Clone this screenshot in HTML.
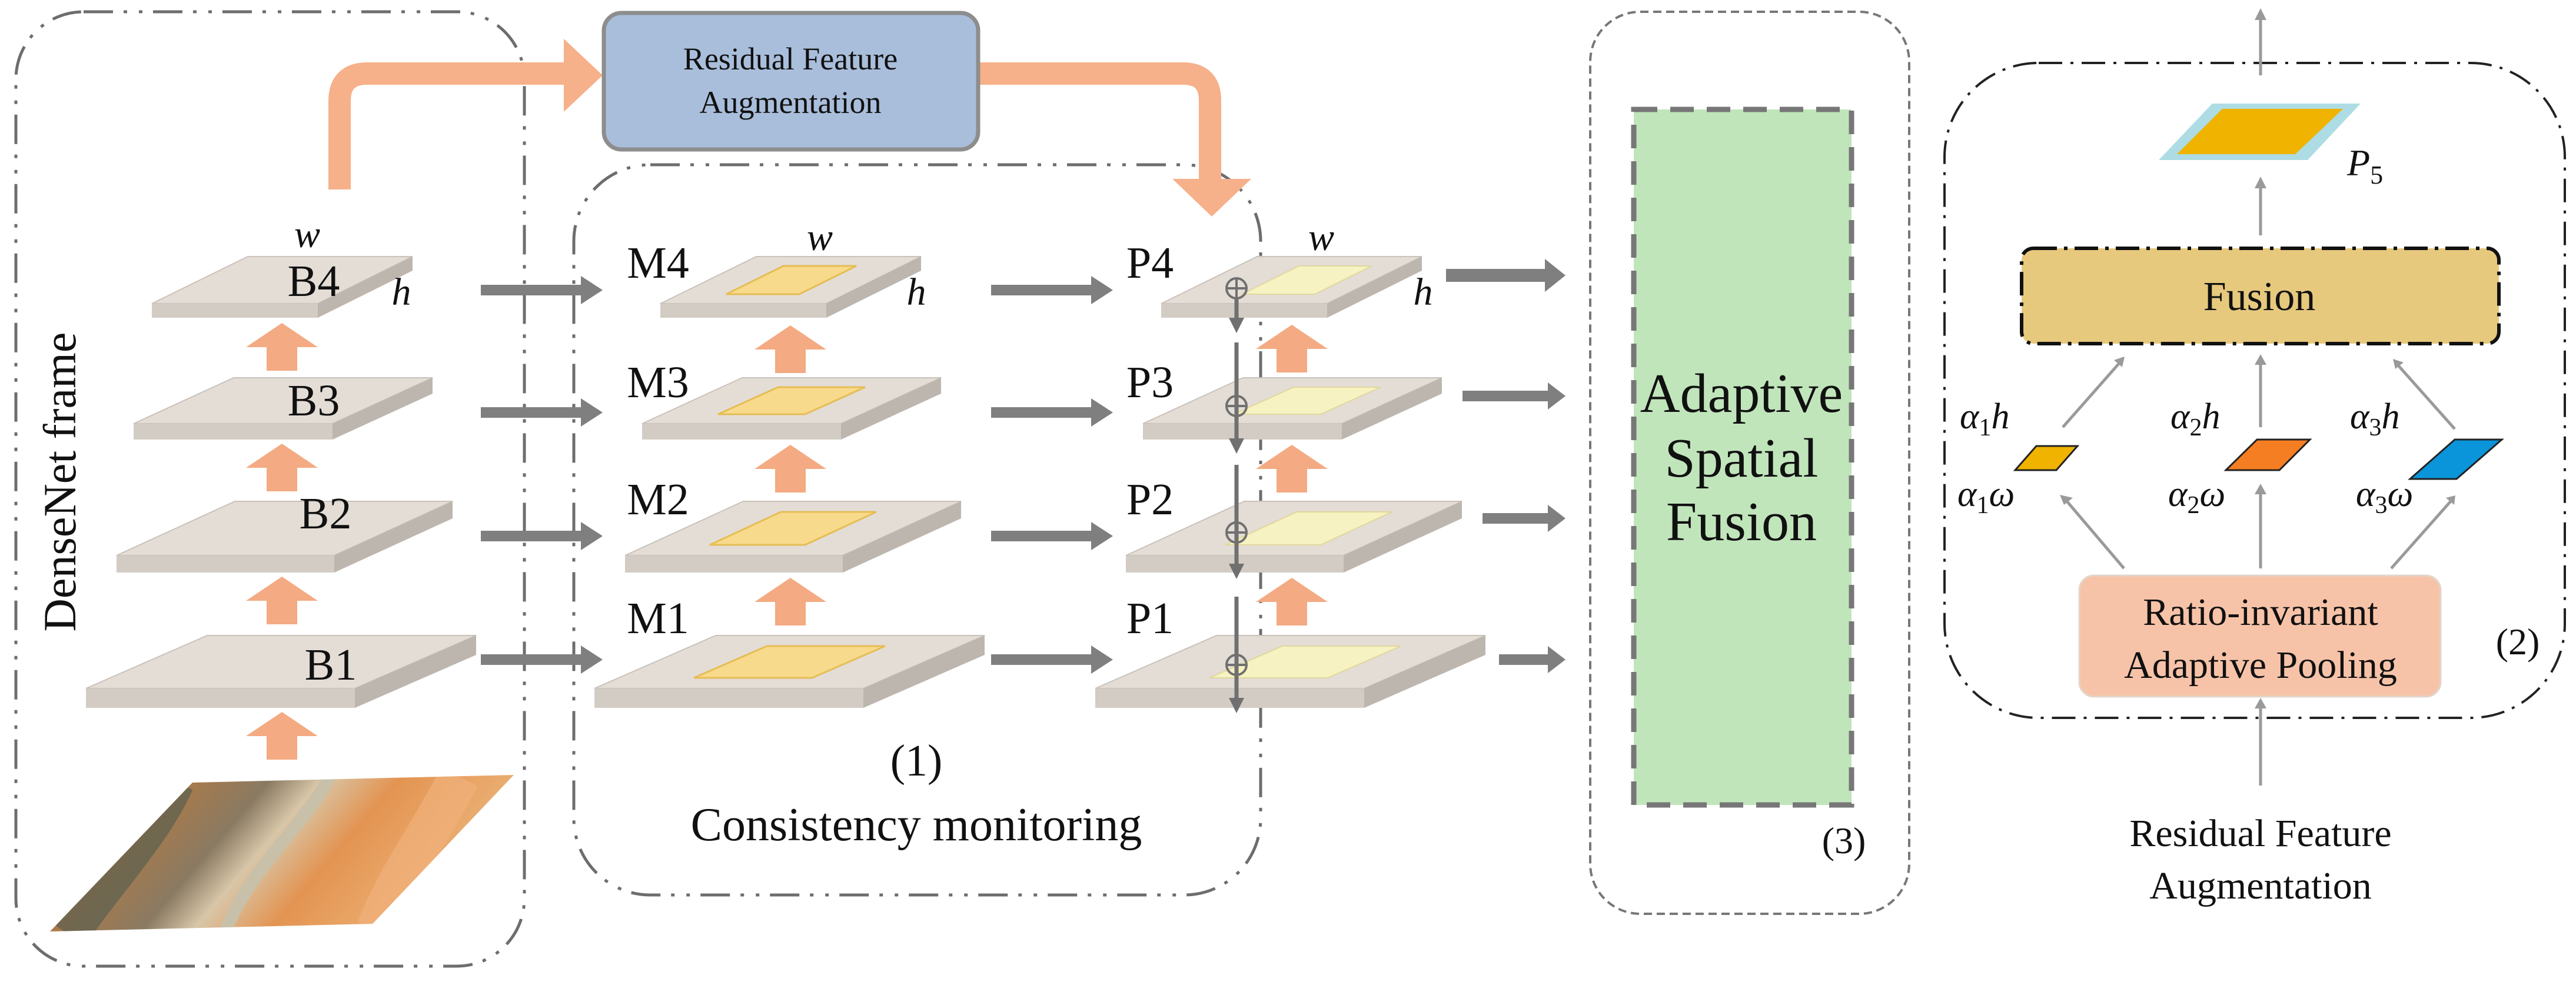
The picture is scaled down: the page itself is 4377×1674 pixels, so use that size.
<!DOCTYPE html>
<html><head><meta charset="utf-8"><style>
html,body{margin:0;padding:0;background:#fff;}
svg{display:block;}
svg text{font-family:"Liberation Serif","DejaVu Serif",serif !important;fill:#111;}
.it{font-style:italic;}
</style></head><body>
<svg width="4377" height="1674" viewBox="0 0 4377 1674" xmlns="http://www.w3.org/2000/svg" font-family="Liberation Serif, DejaVu Serif, serif">
<defs>
  <linearGradient id="img" x1="0" y1="0" x2="1" y2="0.3">
    <stop offset="0" stop-color="#5d5a48"/>
    <stop offset="0.25" stop-color="#b07a45"/>
    <stop offset="0.45" stop-color="#8a7a62"/>
    <stop offset="0.55" stop-color="#d8c6a8"/>
    <stop offset="0.7" stop-color="#e39452"/>
    <stop offset="0.85" stop-color="#e9a566"/>
    <stop offset="1" stop-color="#e8b47c"/>
  </linearGradient>
  <clipPath id="imgclip"><polygon points="327,1330 873,1317 633,1570 85,1583"/></clipPath>
  <g id="ua"><polygon points="0,0 61,41 26,41 26,81 -26,81 -26,41 -61,41" fill="#F4AA82"/></g>
  <g id="slab4">
    <polygon points="258,516 540,516 701,436 421,436" fill="#E4DDD6" stroke="#c9c2bb" stroke-width="2"/>
    <polygon points="258,516 540,516 540,540 258,540" fill="#D3CCC4"/>
    <polygon points="540,516 701,436 701,460 540,540" fill="#BDB6AF"/>
  </g>
  <g id="slab3">
    <polygon points="227,720 565,720 735,642 397,642" fill="#E4DDD6" stroke="#c9c2bb" stroke-width="2"/>
    <polygon points="227,720 565,720 565,747 227,747" fill="#D3CCC4"/>
    <polygon points="565,720 735,642 735,669 565,747" fill="#BDB6AF"/>
  </g>
  <g id="slab2">
    <polygon points="198,944 568,944 769,852 399,852" fill="#E4DDD6" stroke="#c9c2bb" stroke-width="2"/>
    <polygon points="198,944 568,944 568,973 198,973" fill="#D3CCC4"/>
    <polygon points="568,944 769,852 769,881 568,973" fill="#BDB6AF"/>
  </g>
  <g id="slab1">
    <polygon points="146,1170 603,1170 809,1080 352,1080" fill="#E4DDD6" stroke="#c9c2bb" stroke-width="2"/>
    <polygon points="146,1170 603,1170 603,1203 146,1203" fill="#D3CCC4"/>
    <polygon points="603,1170 809,1080 809,1113 603,1203" fill="#BDB6AF"/>
  </g>
  <g id="in4"><polygon points="370,500 494,500 591,452 467,452"/></g>
  <g id="in3"><polygon points="356,704 504,704 606,658 458,658"/></g>
  <g id="in2"><polygon points="342,926 504,926 625,870 463,870"/></g>
  <g id="in1"><polygon points="315,1152 516,1152 640,1098 439,1098"/></g>
  <g id="ga"><polygon points="0,-9 170,-9 170,-24 207,0 170,24 170,9 0,9" fill="#7F7F7F"/></g>
</defs>

<rect x="27" y="20" width="864" height="1622" rx="115" fill="none" stroke="#6d6d6d" stroke-width="5" stroke-dasharray="50 18 6 20 6 18"/>
<text transform="translate(128,819) rotate(-90)" font-size="78" text-anchor="middle">DenseNet frame</text>

<rect x="975" y="280" width="1167" height="1241" rx="130" fill="none" stroke="#6d6d6d" stroke-width="5" stroke-dasharray="50 18 6 20 6 18"/>

<rect x="2702" y="20" width="542" height="1533" rx="85" fill="none" stroke="#777" stroke-width="4" stroke-dasharray="14 8"/>
<rect x="2776" y="186" width="370" height="1182" fill="#C1E5BB" stroke="#777" stroke-width="9" stroke-dasharray="40 22"/>
<text x="2959" y="700" font-size="94" text-anchor="middle">Adaptive</text>
<text x="2959" y="810" font-size="94" text-anchor="middle">Spatial</text>
<text x="2959" y="918" font-size="94" text-anchor="middle">Fusion</text>
<text x="3133" y="1450" font-size="64" text-anchor="middle">(3)</text>

<rect x="3304" y="107" width="1054" height="1113" rx="160" fill="none" stroke="#222" stroke-width="4" stroke-dasharray="40 14 5 14"/>

<path d="M577,322 V172 Q577,125 624,125 H962" fill="none" stroke="#F6B08A" stroke-width="38"/>
<polygon points="958,66 1024,128 958,190" fill="#F6B08A"/>
<path d="M1655,125 H2010 Q2056,125 2056,171 V306" fill="none" stroke="#F6B08A" stroke-width="38"/>
<polygon points="1992,304 2126,304 2059,368" fill="#F6B08A"/>

<rect x="1026" y="22" width="636" height="232" rx="30" fill="#A9BEDB" stroke="#8d8d8d" stroke-width="7"/>
<text x="1343" y="118" font-size="54" text-anchor="middle">Residual Feature</text>
<text x="1343" y="192" font-size="54" text-anchor="middle">Augmentation</text>

<g clip-path="url(#imgclip)">
  <rect x="80" y="1310" width="800" height="280" fill="url(#img)"/>
  <path d="M560,1320 C520,1400 420,1480 380,1590" stroke="#c8c0a8" stroke-width="22" fill="none"/>
  <path d="M300,1330 C260,1420 180,1500 120,1590" stroke="#4f5a50" stroke-width="60" fill="none" opacity="0.6"/>
  <path d="M780,1320 C730,1420 680,1480 640,1580" stroke="#efb07a" stroke-width="70" fill="none" opacity="0.7"/>
</g>

<use href="#slab4"/><use href="#slab3"/><use href="#slab2"/><use href="#slab1"/>
<g transform="translate(864,0)">
  <use href="#slab4"/><use href="#slab3"/><use href="#slab2"/><use href="#slab1"/>
  <g fill="#F8DA8C" stroke="#E6BD55" stroke-width="3">
    <use href="#in4"/><use href="#in3"/><use href="#in2"/><use href="#in1"/>
  </g>
</g>
<g transform="translate(1715,0)">
  <use href="#slab4"/><use href="#slab3"/><use href="#slab2"/><use href="#slab1"/>
  <g fill="#F6F2C2" stroke="#e0d79a" stroke-width="2" transform="translate(25,0)">
    <use href="#in4"/><use href="#in3"/><use href="#in2"/><use href="#in1"/>
  </g>
</g>

<g font-size="76" text-anchor="middle">
<text x="533" y="503">B4</text><text x="533" y="706">B3</text><text x="553" y="898">B2</text><text x="562" y="1155">B1</text>
<text x="1118" y="472">M4</text><text x="1118" y="675">M3</text><text x="1118" y="874">M2</text><text x="1118" y="1076">M1</text>
<text x="1954" y="472">P4</text><text x="1954" y="675">P3</text><text x="1954" y="874">P2</text><text x="1954" y="1076">P1</text>
</g>
<g font-size="66" class="it" text-anchor="middle" font-style="italic">
<text x="522" y="420">w</text><text x="682" y="518">h</text>
<text x="1393" y="425">w</text><text x="1557" y="518">h</text>
<text x="2245" y="425">w</text><text x="2418" y="518">h</text>
</g>

<use href="#ua" x="479" y="549"/><use href="#ua" x="479" y="754"/><use href="#ua" x="479" y="980"/><use href="#ua" x="479" y="1210"/>
<use href="#ua" x="1343" y="553"/><use href="#ua" x="1343" y="756"/><use href="#ua" x="1343" y="982"/>
<use href="#ua" x="2195" y="552"/><use href="#ua" x="2195" y="756"/><use href="#ua" x="2195" y="982"/>

<use href="#ga" x="817" y="493"/><use href="#ga" x="817" y="701"/><use href="#ga" x="817" y="911"/><use href="#ga" x="817" y="1121"/>
<use href="#ga" x="1684" y="493"/><use href="#ga" x="1684" y="701"/><use href="#ga" x="1684" y="911"/><use href="#ga" x="1684" y="1121"/>
<polygon points="2457,457 2625,457 2625,440 2660,468 2625,496 2625,479 2457,479" fill="#7F7F7F"/>
<polygon points="2485,664 2630,664 2630,650 2660,673 2630,696 2630,682 2485,682" fill="#7F7F7F"/>
<polygon points="2519,872 2630,872 2630,858 2660,881 2630,904 2630,890 2519,890" fill="#7F7F7F"/>
<polygon points="2547,1112 2630,1112 2630,1098 2660,1121 2630,1144 2630,1130 2547,1130" fill="#7F7F7F"/>

<g stroke="#707070" stroke-width="7" fill="none">
  <line x1="2101" y1="505" x2="2101" y2="545"/>
  <line x1="2101" y1="582" x2="2101" y2="750"/>
  <line x1="2101" y1="790" x2="2101" y2="962"/>
  <line x1="2101" y1="1014" x2="2101" y2="1190"/>
</g>
<g fill="#707070">
  <polygon points="2088,540 2114,540 2101,566"/>
  <polygon points="2088,745 2114,745 2101,771"/>
  <polygon points="2088,958 2114,958 2101,984"/>
  <polygon points="2088,1186 2114,1186 2101,1212"/>
</g>
<g stroke="#707070" stroke-width="4" fill="none">
  <circle cx="2101" cy="490" r="17"/><path d="M2084,490H2118M2101,473V507"/>
  <circle cx="2101" cy="690" r="17"/><path d="M2084,690H2118M2101,673V707"/>
  <circle cx="2101" cy="905" r="17"/><path d="M2084,905H2118M2101,888V922"/>
  <circle cx="2101" cy="1130" r="17"/><path d="M2084,1130H2118M2101,1113V1147"/>
</g>

<text x="1557" y="1318" font-size="76" text-anchor="middle">(1)</text>
<text x="1557" y="1428" font-size="80" text-anchor="middle">Consistency monitoring</text>

<g stroke="#9a9a9a" stroke-width="5" fill="none">
  <line x1="3841" y1="128" x2="3841" y2="30"/>
  <line x1="3841" y1="400" x2="3841" y2="318"/>
  <line x1="3609" y1="966" x2="3512" y2="852"/>
  <line x1="3841" y1="966" x2="3841" y2="838"/>
  <line x1="4063" y1="966" x2="4164" y2="852"/>
  <line x1="3505" y1="726" x2="3602" y2="616"/>
  <line x1="3841" y1="726" x2="3841" y2="618"/>
  <line x1="4171" y1="729" x2="4074" y2="620"/>
  <line x1="3841" y1="1335" x2="3841" y2="1202"/>
</g>
<g fill="#9a9a9a">
  <polygon points="3831,34 3851,34 3841,14"/>
  <polygon points="3831,320 3851,320 3841,300"/>
  <polygon points="3831,840 3851,840 3841,822"/>
  <polygon points="3831,620 3851,620 3841,602"/>
  <polygon points="3831,1204 3851,1204 3841,1186"/>
  <polygon points="3500,841 3522,846 3507,858"/>
  <polygon points="4172,842 4156,846 4170,858"/>
  <polygon points="3610,606 3592,612 3606,624"/>
  <polygon points="4066,610 4084,616 4070,627"/>
</g>
<polygon points="3668,272 3921,272 4011,176 3759,176" fill="#AEDCE4"/>
<polygon points="3699,262 3900,262 3981,185 3776,185" fill="#EFB300"/>
<text x="3988" y="298" font-size="64" font-style="italic">P<tspan font-size="44" dy="14" font-style="normal">5</tspan></text>

<rect x="3435" y="422" width="811" height="162" rx="20" fill="#E6C97D" stroke="#111" stroke-width="6" stroke-dasharray="40 12 6 12"/>
<text x="3839" y="527" font-size="70" text-anchor="middle">Fusion</text>

<polygon points="3424,799 3494,799 3530,758 3460,758" fill="#EFB300" stroke="#222" stroke-width="3"/>
<polygon points="3782,799 3873,799 3925,747 3835,747" fill="#F57E22" stroke="#222" stroke-width="3"/>
<polygon points="4095,814 4174,814 4251,747 4171,747" fill="#0A95DA" stroke="#222" stroke-width="3"/>

<g font-size="62" font-style="italic">
<text x="3330" y="728">α<tspan font-size="42" dy="12" font-style="normal">1</tspan><tspan dy="-12">h</tspan></text>
<text x="3688" y="728">α<tspan font-size="42" dy="12" font-style="normal">2</tspan><tspan dy="-12">h</tspan></text>
<text x="3993" y="728">α<tspan font-size="42" dy="12" font-style="normal">3</tspan><tspan dy="-12">h</tspan></text>
<text x="3326" y="860">α<tspan font-size="42" dy="12" font-style="normal">1</tspan><tspan dy="-12">ω</tspan></text>
<text x="3684" y="860">α<tspan font-size="42" dy="12" font-style="normal">2</tspan><tspan dy="-12">ω</tspan></text>
<text x="4003" y="860">α<tspan font-size="42" dy="12" font-style="normal">3</tspan><tspan dy="-12">ω</tspan></text>
</g>

<rect x="3533" y="978" width="614" height="206" rx="25" fill="#F7C3A8" stroke="#e2d6cc" stroke-width="3"/>
<text x="3841" y="1062" font-size="66" text-anchor="middle">Ratio-invariant</text>
<text x="3841" y="1152" font-size="66" text-anchor="middle">Adaptive Pooling</text>
<text x="4278" y="1112" font-size="64" text-anchor="middle">(2)</text>

<text x="3841" y="1438" font-size="66" text-anchor="middle">Residual Feature</text>
<text x="3841" y="1527" font-size="66" text-anchor="middle">Augmentation</text>
</svg>
</body></html>
